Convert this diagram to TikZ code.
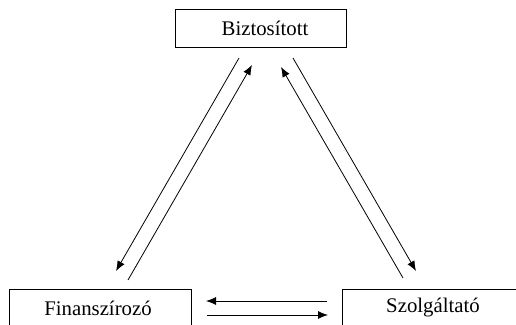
\documentclass[tikz,border=0pt]{standalone}
\usepackage{fontspec}
\setmainfont{Liberation Serif}
\usetikzlibrary{arrows.meta}
\begin{document}
\begin{tikzpicture}[x=1pt,y=-1pt,
  box/.style={draw,line width=0.8pt,inner sep=0pt,font=\fontsize{20.8}{24}\selectfont},
  arr/.style={line width=0.8pt,-{Latex[length=10pt,width=8pt]}}]
\clip (0,0) rectangle (516,324);
\useasboundingbox (0,0) rectangle (516,324);
\node[box,minimum width=171pt,minimum height=38pt] (B) at (260.5,28) {\hspace*{9pt}Biztosított};
\node[box,minimum width=182pt,minimum height=38pt] (F) at (100,308) {Finanszírozó\hspace*{4pt}};
\node[box,minimum width=182pt,minimum height=38pt] (S) at (433,308) {Szolgáltató};
\coordinate (l1s) at (239,58);  \coordinate (l1e) at (116,271);
\coordinate (l2s) at (128,280); \coordinate (l2e) at (252,65);
\coordinate (r1s) at (403,278); \coordinate (r1e) at (281,67);
\coordinate (r2s) at (293,58);  \coordinate (r2e) at (416,271);
\coordinate (h1s) at (327,301); \coordinate (h1e) at (206,301);
\coordinate (h2s) at (207,315); \coordinate (h2e) at (328,315);
\draw[arr] (l1s) -- (l1e);
\draw[arr] (l2s) -- (l2e);
\draw[arr] (r1s) -- (r1e);
\draw[arr] (r2s) -- (r2e);
\draw[arr] (h1s) -- (h1e);
\draw[arr] (h2s) -- (h2e);
\end{tikzpicture}
\end{document}
